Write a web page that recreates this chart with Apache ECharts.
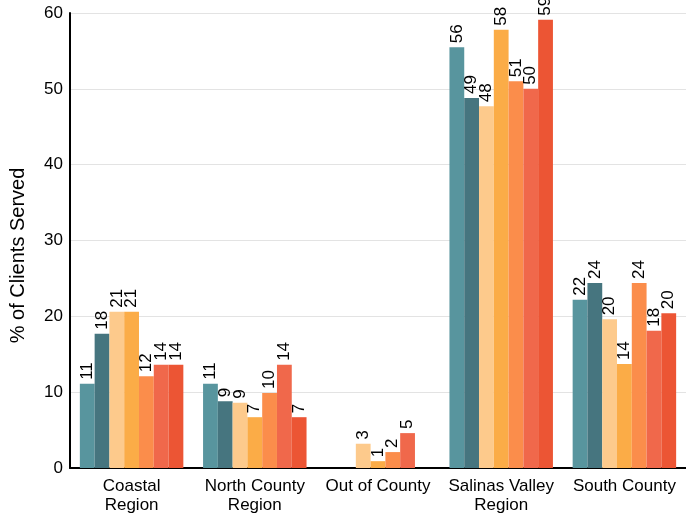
<!DOCTYPE html>
<html><head><meta charset="utf-8">
<script src="https://cdn.jsdelivr.net/npm/echarts@6/dist/echarts.min.js"></script>
<style>html,body{margin:0;padding:0;background:#fff}#c{width:686px;height:518px}</style>
</head><body><div id="c"></div>
<script>
const categories = ["Coastal\nRegion", "North County\nRegion", "Out of County", "Salinas Valley\nRegion", "South County"];
const s1 = [11.1, 11.1, null, 55.5, 22.2];
const s2 = [17.7, 8.8, null, 48.8, 24.4];
const s3 = [20.6, 8.6, 3.2, 47.7, 19.6];
const s4 = [20.6, 6.7, 0.9, 57.8, 13.7];
const s5 = [12.1, 9.9, 2.1, 51.0, 24.4];
const s6 = [13.6, 13.6, 4.6, 50.0, 18.1];
const s7 = [13.6, 6.7, null, 59.1, 20.4];
const seriesNames = ["Series 1", "Series 2", "Series 3", "Series 4", "Series 5", "Series 6", "Series 7"];
const seriesData = [s1, s2, s3, s4, s5, s6, s7];
const colors = ["#58959e", "#46757f", "#fdca8c", "#fbac47", "#fb8d4b", "#f0684b", "#ec5534"];
const yTicks = {min: 0, max: 60, interval: 10};

const chart = echarts.init(document.getElementById('c'), null, {renderer: 'canvas'});
const font = 'Liberation Sans, Arial, sans-serif';
chart.setOption({
  animation: false,
  textStyle: {fontFamily: font},
  grid: {left: 70, right: 0, top: 13, bottom: 50},
  xAxis: {
    type: 'category', data: categories,
    axisLine: {lineStyle: {color: '#000', width: 2}},
    axisTick: {show: false},
    axisLabel: {color: '#000', fontSize: 17, fontFamily: font, lineHeight: 19, margin: 9, interval: 0}
  },
  yAxis: {
    type: 'value', min: yTicks.min, max: yTicks.max, interval: yTicks.interval,
    name: '% of Clients Served', nameLocation: 'middle', nameGap: 42,
    nameTextStyle: {color: '#000', fontSize: 20, fontFamily: font, padding: [0, 30, 0, 0]},
    axisLine: {show: true, lineStyle: {color: '#000', width: 2}},
    axisTick: {show: false},
    axisLabel: {color: '#000', fontSize: 17, fontFamily: font, margin: 7},
    splitLine: {lineStyle: {color: '#e3e3e3', width: 1}}
  },
  series: seriesData.map((d, i) => ({
    name: seriesNames[i], type: 'bar', data: d,
    barGap: '0%', barCategoryGap: '16%',
    itemStyle: {color: colors[i]},
    label: {
      show: true, position: 'top', rotate: 90, align: 'left', verticalAlign: 'middle',
      distance: 4, color: '#000', fontSize: 17, fontFamily: font,
      formatter: p => p.value == null ? '' : Math.round(p.value)
    }
  }))
});
</script></body></html>
